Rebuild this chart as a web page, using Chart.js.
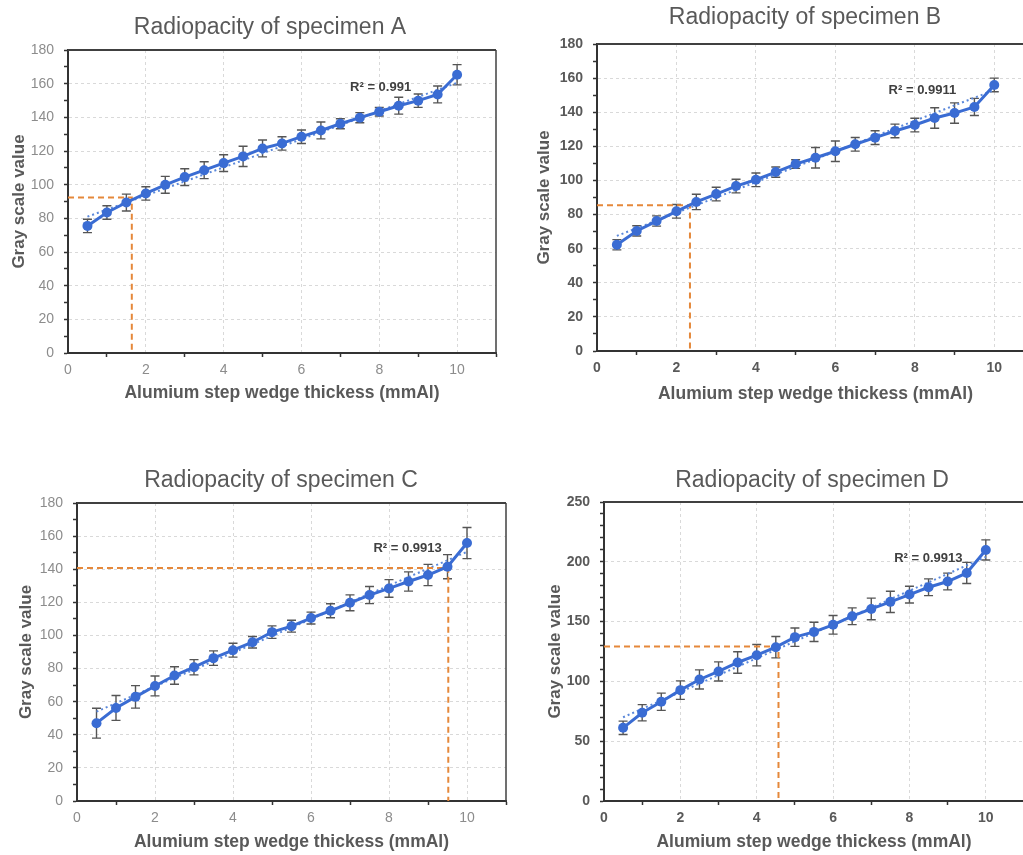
<!DOCTYPE html>
<html>
<head>
<meta charset="utf-8">
<title>Radiopacity of specimens A-D</title>
<script src="https://cdn.jsdelivr.net/npm/chart.js@4.4.1/dist/chart.umd.min.js"></script>
<style>
  html, body { margin: 0; padding: 0; background: #fff; overflow: hidden; width: 1023px; height: 855px; }
  canvas { position: absolute; }
</style>
</head>
<body>
<canvas id="chartA" width="510" height="408" style="left:0px;top:0px"></canvas>
<canvas id="chartB" width="530" height="409" style="left:510px;top:0px"></canvas>
<canvas id="chartC" width="512" height="417" style="left:0px;top:440px"></canvas>
<canvas id="chartD" width="520" height="417" style="left:510px;top:440px"></canvas>
<script>
// step wedge thickness (mmAl)
const thickness = [0.5, 1, 1.5, 2, 2.5, 3, 3.5, 4, 4.5, 5, 5.5, 6, 6.5, 7, 7.5, 8, 8.5, 9, 9.5, 10];

// mean gray values and +/- error per specimen
const grayA = [75.5, 83.5, 89.4, 94.8, 99.9, 104.5, 108.6, 112.8, 116.8, 121.5, 124.5, 128.5, 132.2, 136.2, 139.8, 143.3, 146.9, 149.9, 153.6, 165.3];
const errA  = [4, 4, 5, 4, 5, 5, 5, 5, 6, 5, 4, 4, 5, 3, 3, 2.5, 5, 4, 5, 6];
const grayB = [62.3, 70.4, 76.2, 81.9, 87.4, 92.0, 96.7, 100.4, 104.9, 109.6, 113.3, 117.1, 121.2, 125.1, 129.0, 132.5, 136.6, 139.5, 143.1, 156.0];
const errB  = [3, 3, 3, 4, 4.5, 4, 4, 4, 3, 2.5, 6, 6, 4, 4, 4, 4, 6, 6, 5, 4];
const grayC = [47.0, 56.2, 62.9, 69.5, 75.8, 80.8, 86.3, 91.1, 95.9, 102.0, 105.6, 110.5, 114.9, 119.7, 124.4, 128.4, 132.6, 136.5, 141.5, 155.8];
const errC  = [9, 7.5, 6.8, 6, 5.3, 4.6, 4.4, 4.2, 3.5, 3.8, 3.6, 3.6, 4.2, 4.8, 5.2, 5.3, 5.8, 6.4, 7.3, 9.4];
const grayD = [61.2, 73.8, 83.0, 92.7, 101.6, 108.3, 115.8, 121.9, 128.6, 137.0, 141.4, 147.3, 154.5, 160.6, 166.5, 172.6, 178.7, 183.5, 190.7, 209.9];
const errD  = [5.6, 6.8, 7.2, 7.7, 8, 8, 9, 8.9, 8.9, 7.7, 8, 7.8, 7, 9, 8.9, 7, 7, 7, 8.8, 8.4];

// linear trendline values at x = 0.5 and x = 10
const trendX = [0.5, 10];
const trendA = [81, 160.5];
const trendB = [67.5, 153];
const trendC = [54, 150.5];
const trendD = [70, 204];

// orange read-off point (thickness, gray value) for A, B, C, D
const guideX = [1.64, 2.34, 9.52, 4.57];
const guideY = [92.4, 85.4, 140.7, 129.2];

const r2Text = ['R\u00B2 = 0.991', 'R\u00B2 = 0.9911', 'R\u00B2 = 0.9913', 'R\u00B2 = 0.9913'];
const yMax = [180, 180, 180, 250];
const yLabelStep = [20, 20, 20, 50];

const titles = ['Radiopacity of specimen A', 'Radiopacity of specimen B', 'Radiopacity of specimen C', 'Radiopacity of specimen D'];

const FONT = "'Liberation Sans', Arial, sans-serif";
const BLUE = '#3A6CD3';

// error bars under the main series
const errorBarPlugin = {
    id: 'errorBars',
    beforeDatasetsDraw(chart, args, opts) {
        const {ctx, scales: {x, y}} = chart;
        ctx.save();
        ctx.strokeStyle = '#555';
        ctx.lineWidth = 1.4;
        opts.values.forEach((v, i) => {
            const px = x.getPixelForValue(opts.xs[i]);
            const top = y.getPixelForValue(v + opts.errs[i]);
            const bot = y.getPixelForValue(v - opts.errs[i]);
            ctx.beginPath();
            ctx.moveTo(px, top); ctx.lineTo(px, bot);
            ctx.moveTo(px - 4.5, top); ctx.lineTo(px + 4.5, top);
            ctx.moveTo(px - 4.5, bot); ctx.lineTo(px + 4.5, bot);
            ctx.stroke();
        });
        ctx.restore();
    }
};

// title, R² label and the top/right frame of the plot
const decorPlugin = {
    id: 'decor',
    afterDraw(chart, args, opts) {
        const {ctx, chartArea: a, scales: {x, y}} = chart;
        ctx.save();
        ctx.strokeStyle = '#404040';
        ctx.lineWidth = 2;
        ctx.beginPath();
        ctx.moveTo(a.left, a.top); ctx.lineTo(a.right, a.top);
        ctx.stroke();
        ctx.lineWidth = 1.5;
        ctx.beginPath();
        ctx.moveTo(a.right, a.top); ctx.lineTo(a.right, a.bottom);
        ctx.stroke();

        ctx.fillStyle = '#595959';
        ctx.font = '23px ' + FONT;
        ctx.textAlign = 'center';
        ctx.textBaseline = 'middle';
        ctx.fillText(opts.title, opts.titleX, opts.titleY);

        ctx.fillStyle = '#404040';
        ctx.font = 'bold 13px ' + FONT;
        ctx.textAlign = 'left';
        ctx.fillText(opts.r2, x.getPixelForValue(opts.r2At[0]), y.getPixelForValue(opts.r2At[1]));
        ctx.restore();
    }
};

const panels = [
    {id: 'chartA', gray: grayA, err: errA, trend: trendA, pad: {left: 5, top: 50, right: 14, bottom: 0}, yw: 63, xh: 55, titleX: 270, titleY: 28, r2At: [7.25, 157.6], bold: false},
    {id: 'chartB', gray: grayB, err: errB, trend: trendB, pad: {left: 20, top: 44, right: 6, bottom: 0}, yw: 67, xh: 58, titleX: 295, titleY: 18, r2At: [7.34, 152.8], bold: true},
    {id: 'chartC', gray: grayC, err: errC, trend: trendC, pad: {left: 12, top: 63, right: 6, bottom: 0}, yw: 65, xh: 56, titleX: 281, titleY: 41, r2At: [7.6, 152.8], bold: false},
    {id: 'chartD', gray: grayD, err: errD, trend: trendD, pad: {left: 31, top: 62, right: 6, bottom: 0}, yw: 63, xh: 56, titleX: 302, titleY: 41, r2At: [7.6, 202.7], bold: true}
];

panels.forEach((p, k) => {
    const ctx = document.getElementById(p.id).getContext('2d');
    const tickFont = {family: FONT, size: 14, weight: p.bold ? 'bold' : 'normal'};
    const tickColor = p.bold ? '#595959' : '#8c8c8c';

    new Chart(ctx, {
        type: 'line',
        data: {
            datasets: [
                {
                    data: thickness.map((t, i) => ({x: t, y: p.gray[i]})),
                    borderColor: BLUE,
                    backgroundColor: BLUE,
                    borderWidth: 3,
                    pointRadius: 5,
                    pointBorderWidth: 0,
                    tension: 0
                },
                {
                    data: [{x: 0, y: guideY[k]}, {x: guideX[k], y: guideY[k]}, {x: guideX[k], y: 0}],
                    borderColor: '#E5883A',
                    borderWidth: 2,
                    borderDash: [6, 4],
                    pointRadius: 0,
                    tension: 0
                },
                {
                    data: trendX.map((t, i) => ({x: t, y: p.trend[i]})),
                    borderColor: '#5B88DA',
                    borderWidth: 2,
                    borderDash: [2, 3],
                    pointRadius: 0,
                    tension: 0
                }
            ]
        },
        options: {
            responsive: false,
            animation: false,
            events: [],
            layout: {padding: p.pad},
            plugins: {
                legend: {display: false},
                tooltip: {enabled: false},
                title: {display: false},
                errorBars: {xs: thickness, values: p.gray, errs: p.err},
                decor: {title: titles[k], titleX: p.titleX, titleY: p.titleY, r2: r2Text[k], r2At: p.r2At}
            },
            scales: {
                x: {
                    type: 'linear',
                    min: 0,
                    max: 11,
                    afterFit: s => { s.height = p.xh; },
                    ticks: {
                        stepSize: 1,
                        autoSkip: false,
                        maxRotation: 0,
                        padding: 5,
                        color: tickColor,
                        font: tickFont,
                        callback: v => (v % 2 === 0 && v <= 10) ? v : ''
                    },
                    grid: {
                        color: c => (c.tick && c.tick.value % 2 === 0 && c.tick.value > 0 && c.tick.value <= 10) ? '#d9d9d9' : 'rgba(0,0,0,0)',
                        tickColor: c => (c.tick && c.tick.value % 2 === 1) ? '#333' : 'rgba(0,0,0,0)',
                        tickLength: 4,
                        tickWidth: 1.5
                    },
                    border: {color: '#333', width: 2, dash: [3, 3]},
                    title: {
                        display: true,
                        text: 'Alumium step wedge thickess (mmAl)',
                        color: '#595959',
                        font: {family: FONT, size: 17.5, weight: 'bold'}
                    }
                },
                y: {
                    min: 0,
                    max: yMax[k],
                    afterFit: s => { s.width = p.yw; },
                    ticks: {
                        stepSize: 10,
                        autoSkip: false,
                        padding: 10,
                        color: tickColor,
                        font: tickFont,
                        callback: v => (v % yLabelStep[k] === 0) ? v : ''
                    },
                    grid: {
                        color: c => (c.tick && c.tick.value % yLabelStep[k] === 0 && c.tick.value > 0) ? '#d9d9d9' : 'rgba(0,0,0,0)',
                        tickColor: '#333',
                        tickLength: 4,
                        tickWidth: 1.5
                    },
                    border: {color: '#333', width: 2, dash: [3, 3]},
                    title: {
                        display: true,
                        text: 'Gray scale value',
                        color: '#595959',
                        font: {family: FONT, size: 17, weight: 'bold'}
                    }
                }
            }
        },
        plugins: [errorBarPlugin, decorPlugin]
    });
});
</script>
</body>
</html>
